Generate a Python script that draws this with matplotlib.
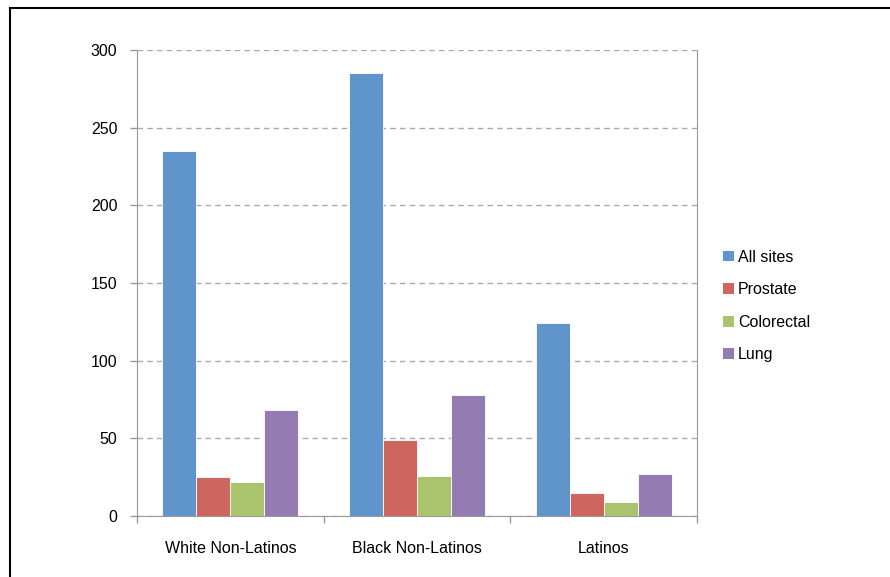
import numpy as np
import matplotlib.pyplot as plt
from matplotlib.patches import Patch
from matplotlib.lines import Line2D

# data
groups = ['White Non-Latinos', 'Black Non-Latinos', 'Latinos']
sites = ['All sites', 'Prostate', 'Colorectal', 'Lung']
all_sites = [235, 285, 124]
prostate = [25, 49, 15]
colorectal = [22, 26, 9]
lung = [68, 78, 27]
yticks = [0, 50, 100, 150, 200, 250, 300]

colors = ['#5F95CA', '#CE6660', '#A9C46C', '#947BB1']

plt.rcParams['font.family'] = ['Liberation Sans', 'DejaVu Sans']

fig = plt.figure(figsize=(8.9, 5.77), dpi=100)
ax = fig.add_axes([137/890, 1-516/577, 560/890, 466/577])

x = np.arange(len(groups))
w = 0.182
series = [all_sites, prostate, colorectal, lung]
for i, vals in enumerate(series):
    ax.bar(x + (i-1.5)*w, vals, width=w, color=colors[i],
           edgecolor='white', linewidth=0.6, zorder=3)

# axes look
ax.set_xlim(-0.5, 2.5)
ax.set_ylim(0, 300)
ax.set_yticks(yticks)
ax.set_xticks(x)
ax.set_xticklabels(groups)
ax.set_xticks([-0.5, 0.5, 1.5, 2.5], minor=True)
ax.tick_params(axis='x', which='major', length=0, pad=18, labelsize=11.5)
ax.tick_params(axis='x', which='minor', length=5, color='#999999', width=1)
ax.tick_params(axis='y', length=5, color='#999999', width=1, pad=9, labelsize=11.5)
ax.grid(axis='y', linestyle=(0, (4, 3)), color='#AAAAAA', linewidth=1, zorder=0)
for side in ['left', 'right', 'bottom']:
    ax.spines[side].set_color('#999999')
ax.spines['top'].set_visible(False)

handles = [Patch(facecolor=c, edgecolor='none') for c in colors]
fig.legend(handles, sites, loc='center left', bbox_to_anchor=(717/890, 1-306/577),
           frameon=False, fontsize=11.5, handlelength=0.65, handleheight=0.65,
           handletextpad=0.25, labelspacing=1.1, borderaxespad=0)

# outer frame (only left and top visible in the reference)
fig.add_artist(Line2D([9.5/890, 9.5/890], [0, 1-8/577], color='black', lw=1.5,
                      transform=fig.transFigure))
fig.add_artist(Line2D([9.5/890, 1], [1-8/577, 1-8/577], color='black', lw=1.5,
                      transform=fig.transFigure))

fig.savefig('out.png', dpi=100)
